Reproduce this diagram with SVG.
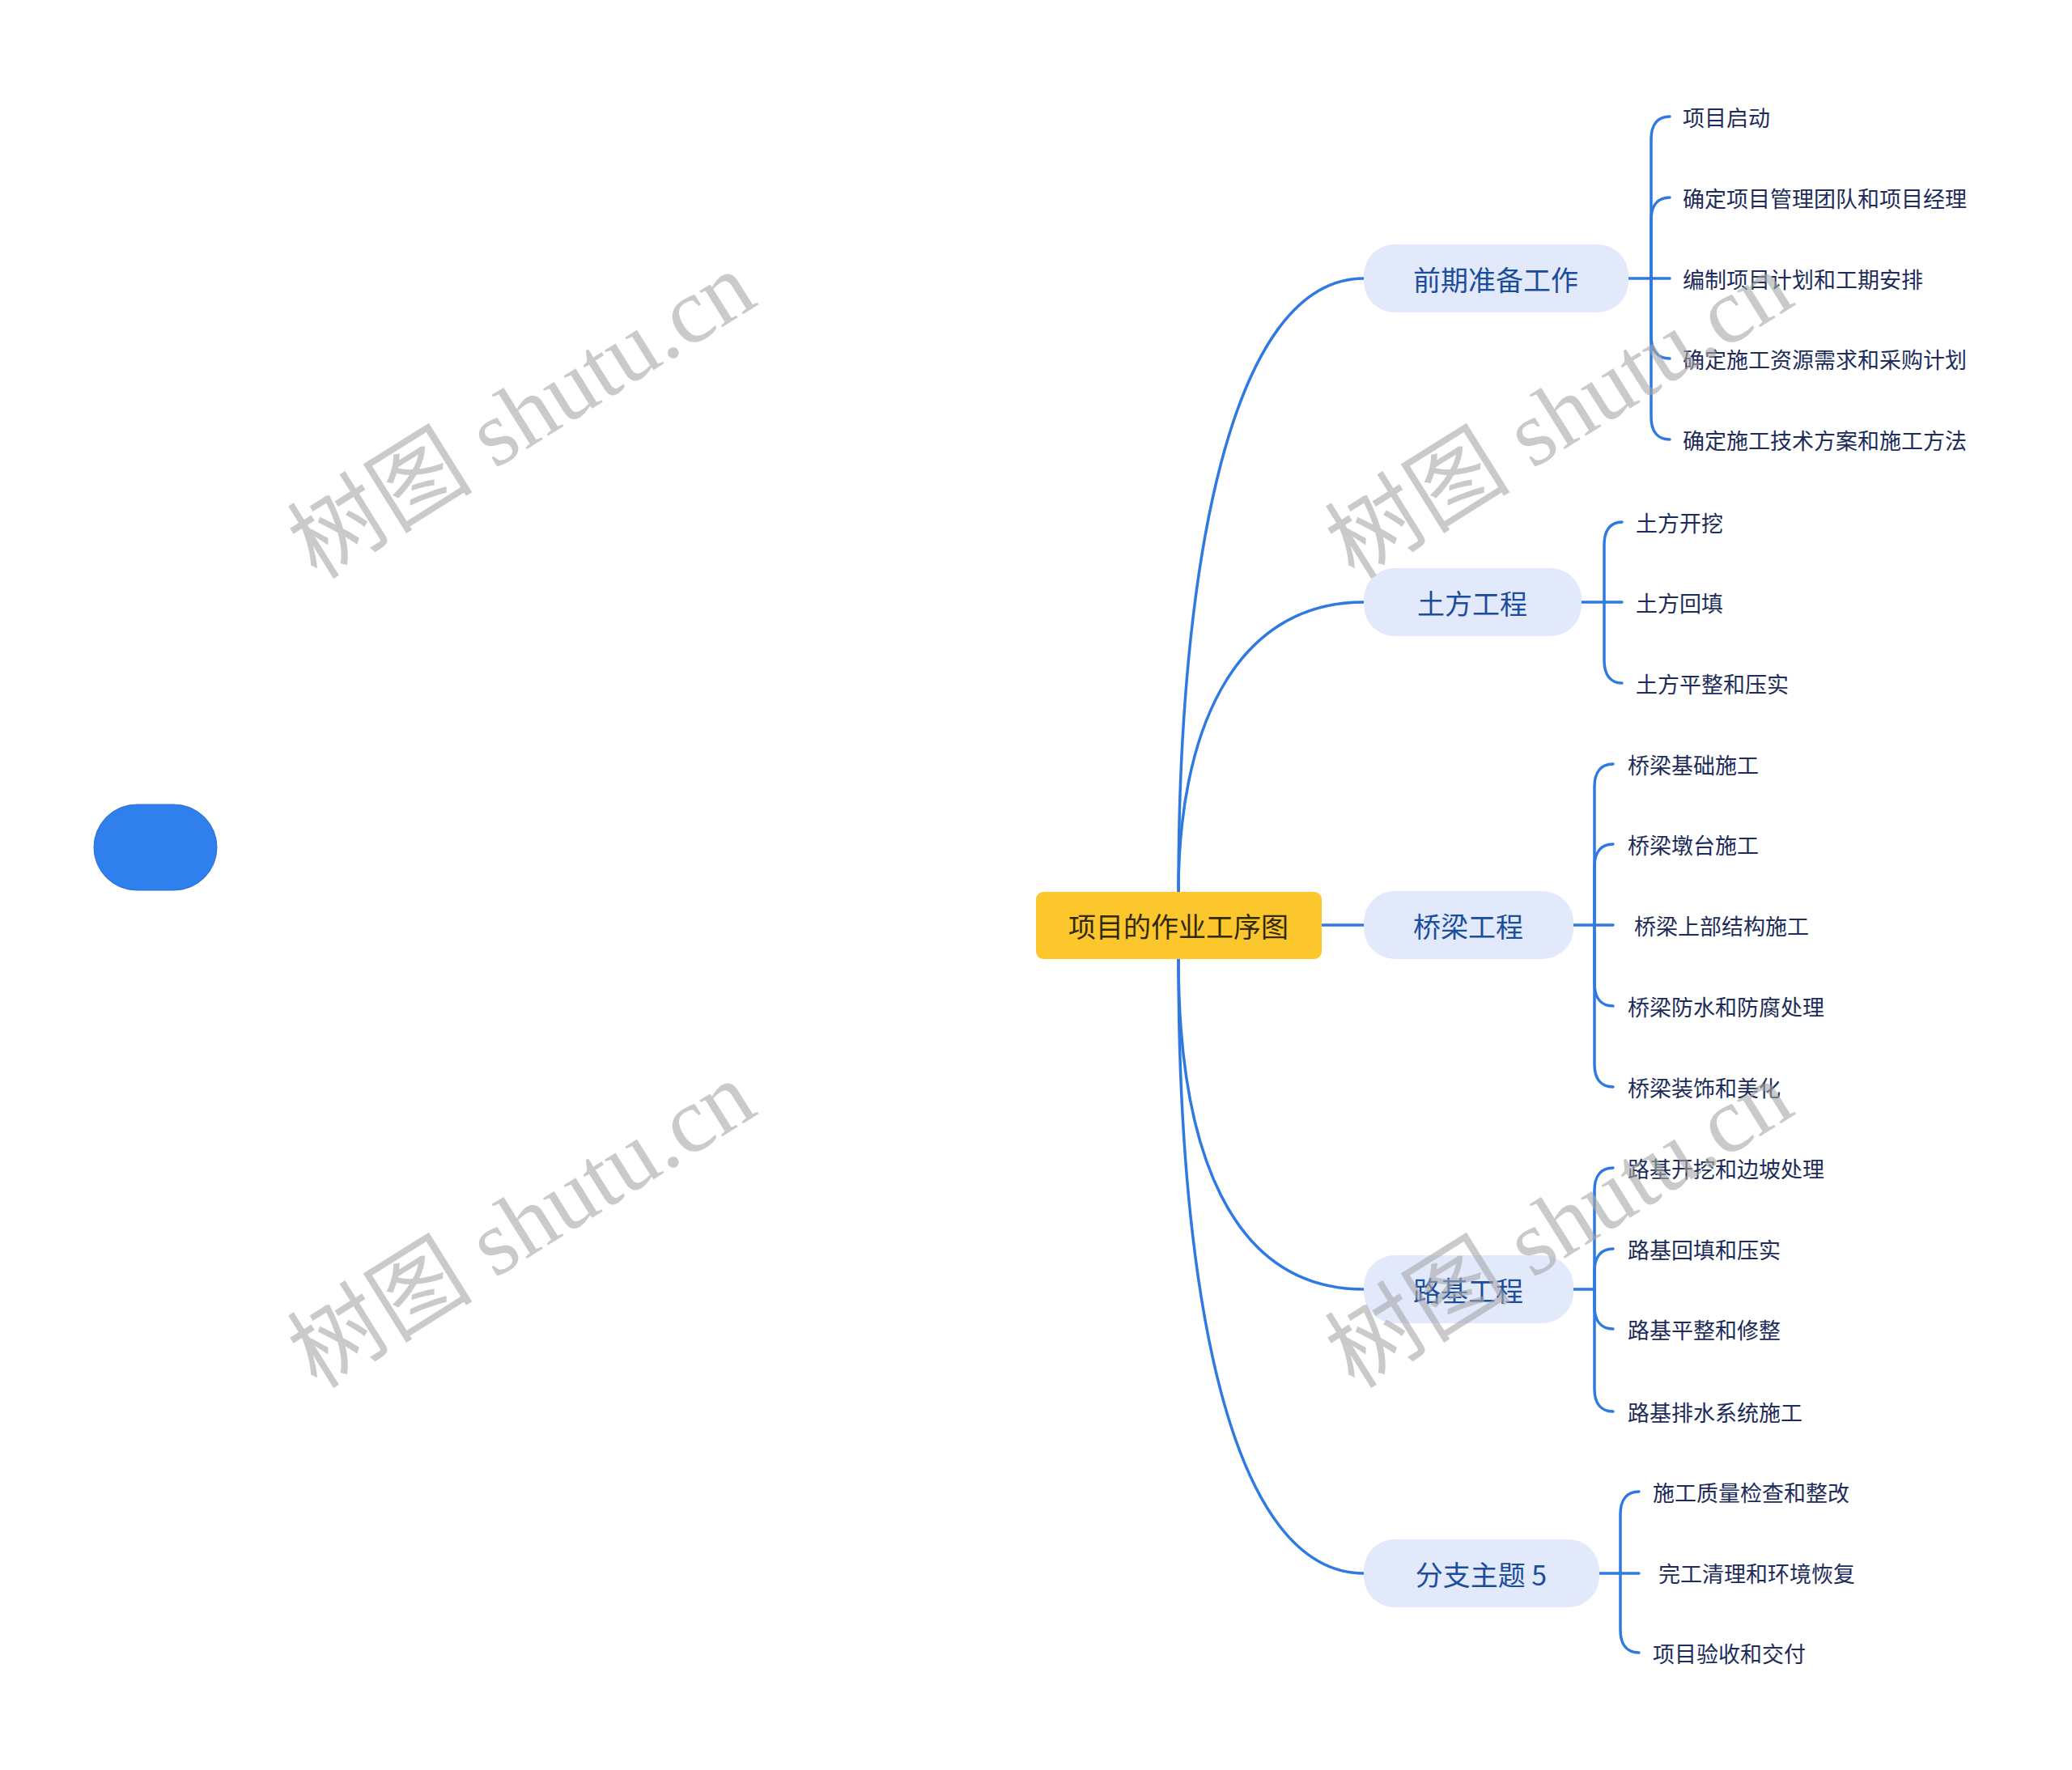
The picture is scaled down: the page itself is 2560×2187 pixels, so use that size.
<svg xmlns="http://www.w3.org/2000/svg" width="2560" height="2187" viewBox="0 0 2560 2187">
<style>
.conn{fill:none;stroke:#2f7ae0;stroke-width:3.5;stroke-linecap:round}
.root{fill:#fcc62d}
.rootText{font-family:"Noto Sans CJK SC","Noto Sans",sans-serif;font-size:34px;fill:#33290c}
.br{fill:#e1e9fb}
.brText{font-family:"Noto Sans CJK SC","Noto Sans",sans-serif;font-size:34px;fill:#1b4d9c;text-anchor:middle}
.leaf{font-family:"Noto Sans CJK SC","Noto Sans",sans-serif;font-size:27px;fill:#1d2c5a}
.wm{font-family:"Liberation Serif","Noto Sans CJK SC",serif;font-size:115px;fill:#a8a8a8;opacity:0.6;text-anchor:middle}
</style>
<rect width="2560" height="2187" fill="#ffffff"/>
<g id="connectors">
<path class="conn" d="M1456 1102 C1456 700 1520 344 1685 344"/>
<path class="conn" d="M1456 1102 C1456 912 1520 744 1685 744"/>
<path class="conn" d="M1633 1143 H1685"/>
<path class="conn" d="M1456 1185 C1456 1420 1520 1593 1685 1593"/>
<path class="conn" d="M1456 1185 C1456 1600 1520 1944 1685 1944"/>
<!-- 前期准备工作 -->
<path class="conn" d="M2012 344 H2063"/>
<path class="conn" d="M2040 344 V172 C2040 154 2048 144 2063 144"/>
<path class="conn" d="M2040 344 V272 C2040 254 2048 244 2063 244"/>
<path class="conn" d="M2040 344 V415 C2040 433 2048 443 2063 443"/>
<path class="conn" d="M2040 344 V515 C2040 533 2048 543 2063 543"/>
<!-- 土方工程 -->
<path class="conn" d="M1954 744 H2004"/>
<path class="conn" d="M1982 744 V673 C1982 655 1990 645 2004 645"/>
<path class="conn" d="M1982 744 V816 C1982 834 1990 844 2004 844"/>
<!-- 桥梁工程 -->
<path class="conn" d="M1944 1143 H1993"/>
<path class="conn" d="M1970 1143 V972 C1970 954 1978 944 1993 944"/>
<path class="conn" d="M1970 1143 V1071 C1970 1053 1978 1043 1993 1043"/>
<path class="conn" d="M1970 1143 V1215 C1970 1233 1978 1243 1993 1243"/>
<path class="conn" d="M1970 1143 V1315 C1970 1333 1978 1343 1993 1343"/>
<!-- 路基工程 -->
<path class="conn" d="M1944 1593 H1970"/>
<path class="conn" d="M1970 1593 V1471 C1970 1453 1978 1443 1993 1443"/>
<path class="conn" d="M1970 1593 V1571 C1970 1553 1978 1543 1993 1543"/>
<path class="conn" d="M1970 1593 V1614 C1970 1632 1978 1642 1993 1642"/>
<path class="conn" d="M1970 1593 V1716 C1970 1734 1978 1744 1993 1744"/>
<!-- 分支主题 5 -->
<path class="conn" d="M1976 1944 H2025"/>
<path class="conn" d="M2002 1944 V1871 C2002 1853 2010 1843 2025 1843"/>
<path class="conn" d="M2002 1944 V2014 C2002 2032 2010 2042 2025 2042"/>
</g>
<g id="blob">
<rect x="116" y="994" width="152" height="106" rx="53" ry="53" fill="#2f80ec" stroke="#2a6fd2" stroke-width="1"/>
</g>
<g id="root">
<rect class="root" x="1280" y="1102" width="353" height="83" rx="9"/>
<text class="rootText" x="1456" y="1143" text-anchor="middle" dominant-baseline="central">项目的作业工序图</text>
</g>
<g id="b1">
<rect class="br" x="1685" y="302" width="327" height="84" rx="38"/>
<text class="brText" x="1848" y="344" dominant-baseline="central">前期准备工作</text>
</g>
<g id="b2">
<rect class="br" x="1685" y="702" width="269" height="84" rx="38"/>
<text class="brText" x="1819" y="744" dominant-baseline="central">土方工程</text>
</g>
<g id="b3">
<rect class="br" x="1685" y="1101" width="259" height="84" rx="38"/>
<text class="brText" x="1814" y="1143" dominant-baseline="central">桥梁工程</text>
</g>
<g id="b4">
<rect class="br" x="1685" y="1551" width="259" height="84" rx="38"/>
<text class="brText" x="1814" y="1593" dominant-baseline="central">路基工程</text>
</g>
<g id="b5">
<rect class="br" x="1685" y="1902" width="291" height="84" rx="38"/>
<text class="brText" x="1830" y="1944" dominant-baseline="central">分支主题 5</text>
</g>
<g id="leaves1">
<text class="leaf" x="2079" y="144" dominant-baseline="central">项目启动</text>
<text class="leaf" x="2079" y="244" dominant-baseline="central">确定项目管理团队和项目经理</text>
<text class="leaf" x="2079" y="344" dominant-baseline="central">编制项目计划和工期安排</text>
<text class="leaf" x="2079" y="443" dominant-baseline="central">确定施工资源需求和采购计划</text>
<text class="leaf" x="2079" y="543" dominant-baseline="central">确定施工技术方案和施工方法</text>
</g>
<g id="leaves2">
<text class="leaf" x="2021" y="645" dominant-baseline="central">土方开挖</text>
<text class="leaf" x="2021" y="744" dominant-baseline="central">土方回填</text>
<text class="leaf" x="2021" y="844" dominant-baseline="central">土方平整和压实</text>
</g>
<g id="leaves3">
<text class="leaf" x="2011" y="944" dominant-baseline="central">桥梁基础施工</text>
<text class="leaf" x="2011" y="1043" dominant-baseline="central">桥梁墩台施工</text>
<text class="leaf" x="2019" y="1143" dominant-baseline="central">桥梁上部结构施工</text>
<text class="leaf" x="2011" y="1243" dominant-baseline="central">桥梁防水和防腐处理</text>
<text class="leaf" x="2011" y="1343" dominant-baseline="central">桥梁装饰和美化</text>
</g>
<g id="leaves4">
<text class="leaf" x="2011" y="1443" dominant-baseline="central">路基开挖和边坡处理</text>
<text class="leaf" x="2011" y="1543" dominant-baseline="central">路基回填和压实</text>
<text class="leaf" x="2011" y="1642" dominant-baseline="central">路基平整和修整</text>
<text class="leaf" x="2011" y="1744" dominant-baseline="central">路基排水系统施工</text>
</g>
<g id="leaves5">
<text class="leaf" x="2042" y="1843" dominant-baseline="central">施工质量检查和整改</text>
<text class="leaf" x="2049" y="1943" dominant-baseline="central">完工清理和环境恢复</text>
<text class="leaf" x="2042" y="2042" dominant-baseline="central">项目验收和交付</text>
</g>
<g id="watermarks">
<text class="wm" transform="translate(645 514) rotate(-32)" y="38">树图 shutu.cn</text>
<text class="wm" transform="translate(1927 514) rotate(-32)" y="38">树图 shutu.cn</text>
<text class="wm" transform="translate(645 1514) rotate(-32)" y="38">树图 shutu.cn</text>
<text class="wm" transform="translate(1927 1514) rotate(-32)" y="38">树图 shutu.cn</text>
</g>
</svg>
